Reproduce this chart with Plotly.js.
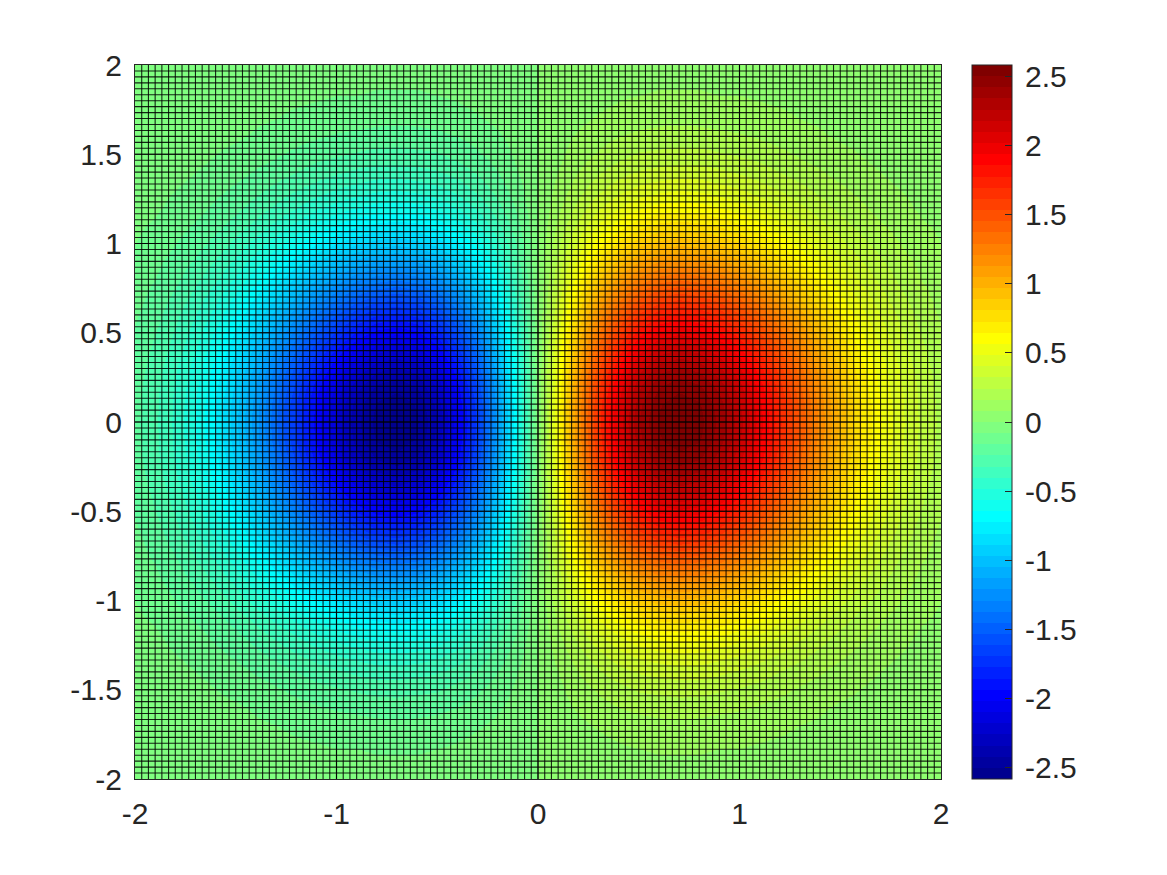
<!DOCTYPE html>
<html>
<head>
<meta charset="utf-8">
<script src="https://cdn.plot.ly/plotly-3.0.1.min.js"></script>
<style>
body{margin:0;background:#fff}
/* the mesh is drawn with the axis ticks, let them antialias like the figure */
.xaxislayer-above path, .yaxislayer-above path{shape-rendering:geometricPrecision !important}
</style>
</head>
<body>
<div id="chart" style="width:1167px;height:875px"></div>
<script>
var xValues = [-2,-1.9,-1.8,-1.7,-1.6,-1.5,-1.4,-1.3,-1.2,-1.1,-1,-.9,-.8,-.7,-.6,-.5,-.4,-.3,-.2,-.1,0,.1,.2,.3,.4,.5,.6,.7,.8,.9,1,1.1,1.2,1.3,1.4,1.5,1.6,1.7,1.8,1.9,2];
var yValues = [-2,-1.9,-1.8,-1.7,-1.6,-1.5,-1.4,-1.3,-1.2,-1.1,-1,-.9,-.8,-.7,-.6,-.5,-.4,-.3,-.2,-.1,0,.1,.2,.3,.4,.5,.6,.7,.8,.9,1,1.1,1.2,1.3,1.4,1.5,1.6,1.7,1.8,1.9,2];

// values, one row per |y| (top and bottom halves look the same)
var row00 = [-.22,-.31,-.42,-.57,-.74,-.95,-1.18,-1.44,-1.71,-1.97,-2.21,-2.40,-2.53,-2.57,-2.51,-2.34,-2.05,-1.65,-1.15,-.59,0,.59,1.15,1.65,2.05,2.34,2.51,2.57,2.53,2.40,2.21,1.97,1.71,1.44,1.18,.95,.74,.57,.42,.31,.22];
var row01 = [-.22,-.30,-.42,-.56,-.74,-.94,-1.17,-1.43,-1.69,-1.95,-2.18,-2.38,-2.51,-2.55,-2.49,-2.31,-2.02,-1.63,-1.14,-.59,0,.59,1.14,1.63,2.02,2.31,2.49,2.55,2.51,2.38,2.18,1.95,1.69,1.43,1.17,.94,.74,.56,.42,.30,.22];
var row02 = [-.21,-.30,-.41,-.54,-.71,-.91,-1.14,-1.38,-1.64,-1.89,-2.12,-2.31,-2.43,-2.47,-2.41,-2.24,-1.97,-1.58,-1.11,-.57,0,.57,1.11,1.58,1.97,2.24,2.41,2.47,2.43,2.31,2.12,1.89,1.64,1.38,1.14,.91,.71,.54,.41,.30,.21];
var row03 = [-.20,-.28,-.39,-.52,-.68,-.87,-1.08,-1.32,-1.56,-1.80,-2.02,-2.19,-2.31,-2.35,-2.30,-2.14,-1.87,-1.50,-1.05,-.54,0,.54,1.05,1.50,1.87,2.14,2.30,2.35,2.31,2.19,2.02,1.80,1.56,1.32,1.08,.87,.68,.52,.39,.28,.20];
var row04 = [-.19,-.26,-.36,-.48,-.63,-.81,-1.01,-1.23,-1.46,-1.68,-1.88,-2.05,-2.16,-2.19,-2.14,-1.99,-1.74,-1.40,-.98,-.51,0,.51,.98,1.40,1.74,1.99,2.14,2.19,2.16,2.05,1.88,1.68,1.46,1.23,1.01,.81,.63,.48,.36,.26,.19];
var row05 = [-.17,-.24,-.33,-.44,-.58,-.74,-.92,-1.12,-1.33,-1.53,-1.72,-1.87,-1.97,-2.00,-1.96,-1.82,-1.59,-1.28,-.90,-.46,0,.46,.90,1.28,1.59,1.82,1.96,2.00,1.97,1.87,1.72,1.53,1.33,1.12,.92,.74,.58,.44,.33,.24,.17];
var row06 = [-.15,-.21,-.30,-.40,-.52,-.66,-.83,-1.01,-1.19,-1.38,-1.54,-1.68,-1.77,-1.80,-1.75,-1.63,-1.43,-1.15,-.80,-.41,0,.41,.80,1.15,1.43,1.63,1.75,1.80,1.77,1.68,1.54,1.38,1.19,1.01,.83,.66,.52,.40,.30,.21,.15];
var row07 = [-.13,-.19,-.26,-.35,-.46,-.58,-.73,-.88,-1.05,-1.21,-1.35,-1.47,-1.55,-1.58,-1.54,-1.43,-1.25,-1.01,-.71,-.36,0,.36,.71,1.01,1.25,1.43,1.54,1.58,1.55,1.47,1.35,1.21,1.05,.88,.73,.58,.46,.35,.26,.19,.13];
var row08 = [-.12,-.16,-.22,-.30,-.39,-.50,-.62,-.76,-.90,-1.04,-1.16,-1.27,-1.33,-1.36,-1.32,-1.23,-1.08,-.87,-.61,-.31,0,.31,.61,.87,1.08,1.23,1.32,1.36,1.33,1.27,1.16,1.04,.90,.76,.62,.50,.39,.30,.22,.16,.12];
var row09 = [-.10,-.14,-.19,-.25,-.33,-.42,-.53,-.64,-.76,-.88,-.98,-1.07,-1.13,-1.14,-1.12,-1.04,-.91,-.73,-.51,-.26,0,.26,.51,.73,.91,1.04,1.12,1.14,1.13,1.07,.98,.88,.76,.64,.53,.42,.33,.25,.19,.14,.10];
var row10 = [-.08,-.11,-.16,-.21,-.27,-.35,-.44,-.53,-.63,-.72,-.81,-.88,-.93,-.95,-.92,-.86,-.75,-.61,-.42,-.22,0,.22,.42,.61,.75,.86,.92,.95,.93,.88,.81,.72,.63,.53,.44,.35,.27,.21,.16,.11,.08];
var row11 = [-.07,-.09,-.13,-.17,-.22,-.28,-.35,-.43,-.51,-.59,-.66,-.72,-.75,-.77,-.75,-.70,-.61,-.49,-.34,-.18,0,.18,.34,.49,.61,.70,.75,.77,.75,.72,.66,.59,.51,.43,.35,.28,.22,.17,.13,.09,.07];
var row12 = [-.05,-.07,-.10,-.13,-.18,-.22,-.28,-.34,-.40,-.47,-.52,-.57,-.60,-.61,-.60,-.55,-.48,-.39,-.27,-.14,0,.14,.27,.39,.48,.55,.60,.61,.60,.57,.52,.47,.40,.34,.28,.22,.18,.13,.10,.07,.05];
var row13 = [-.04,-.06,-.08,-.10,-.14,-.18,-.22,-.27,-.32,-.36,-.41,-.44,-.47,-.48,-.46,-.43,-.38,-.30,-.21,-.11,0,.11,.21,.30,.38,.43,.46,.48,.47,.44,.41,.36,.32,.27,.22,.18,.14,.10,.08,.06,.04];
var row14 = [-.03,-.04,-.06,-.08,-.10,-.13,-.17,-.20,-.24,-.28,-.31,-.34,-.36,-.36,-.35,-.33,-.29,-.23,-.16,-.08,0,.08,.16,.23,.29,.33,.35,.36,.36,.34,.31,.28,.24,.20,.17,.13,.10,.08,.06,.04,.03];
var row15 = [-.02,-.03,-.04,-.06,-.08,-.10,-.12,-.15,-.18,-.21,-.23,-.25,-.27,-.27,-.26,-.25,-.21,-.17,-.12,-.06,0,.06,.12,.17,.21,.25,.26,.27,.27,.25,.23,.21,.18,.15,.12,.10,.08,.06,.04,.03,.02];
var row16 = [-.02,-.02,-.03,-.04,-.06,-.07,-.09,-.11,-.13,-.15,-.17,-.18,-.19,-.20,-.19,-.18,-.16,-.13,-.09,-.05,0,.05,.09,.13,.16,.18,.19,.20,.19,.18,.17,.15,.13,.11,.09,.07,.06,.04,.03,.02,.02];
var row17 = [-.01,-.02,-.02,-.03,-.04,-.05,-.07,-.08,-.10,-.11,-.12,-.13,-.14,-.14,-.14,-.13,-.11,-.09,-.06,-.03,0,.03,.06,.09,.11,.13,.14,.14,.14,.13,.12,.11,.10,.08,.07,.05,.04,.03,.02,.02,.01];
var row18 = [-.01,-.01,-.02,-.02,-.03,-.04,-.05,-.06,-.07,-.08,-.09,-.09,-.10,-.10,-.10,-.09,-.08,-.06,-.04,-.02,0,.02,.04,.06,.08,.09,.10,.10,.10,.09,.09,.08,.07,.06,.05,.04,.03,.02,.02,.01,.01];
var row19 = [-.01,-.01,-.01,-.02,-.02,-.03,-.03,-.04,-.05,-.05,-.06,-.06,-.07,-.07,-.07,-.06,-.06,-.04,-.03,-.02,0,.02,.03,.04,.06,.06,.07,.07,.07,.06,.06,.05,.05,.04,.03,.03,.02,.02,.01,.01,.01];
var row20 = [0,-.01,-.01,-.01,-.01,-.02,-.02,-.03,-.03,-.04,-.04,-.04,-.05,-.05,-.05,-.04,-.04,-.03,-.02,-.01,0,.01,.02,.03,.04,.04,.05,.05,.05,.04,.04,.04,.03,.03,.02,.02,.01,.01,.01,.01,0];

var zRows = [row20,row19,row18,row17,row16,row15,row14,row13,row12,row11,row10,row09,row08,row07,row06,row05,row04,row03,row02,row01,
  row00,row01,row02,row03,row04,row05,row06,row07,row08,row09,row10,row11,row12,row13,row14,row15,row16,row17,row18,row19,row20];

var zLimit = 2.58;
var xTicks = [-2,-1,0,1,2];
var xTickText = ['-2','-1','0','1','2'];
var yTicks = [-2,-1.5,-1,-.5,0,.5,1,1.5,2];
var yTickText = ['-2','-1.5','-1','-0.5','0','0.5','1','1.5','2'];
var barTicks = [-2.5,-2,-1.5,-1,-.5,0,.5,1,1.5,2,2.5];
// thin space in front pushes the labels off the bar, the colorbar has no standoff
var barTickText = ['\u2009-2.5','\u2009-2','\u2009-1.5','\u2009-1','\u2009-0.5','\u20090','\u20090.5','\u20091','\u20091.5','\u20092','\u20092.5'];

// 64 step jet, same as the figure's colorbar
function jetScale() {
  var scale = [];
  for (var i = 0; i < 64; i++) {
    var v = (i + 1) / 64;
    var r = Math.max(0, Math.min(1, 4 * v - 1.5, -4 * v + 4.5));
    var g = Math.max(0, Math.min(1, 4 * v - .5, -4 * v + 3.5));
    var b = Math.max(0, Math.min(1, 4 * v + .5, -4 * v + 2.5));
    var c = 'rgb(' + Math.round(r * 255) + ',' + Math.round(g * 255) + ',' + Math.round(b * 255) + ')';
    scale.push([i / 64, c]);
    scale.push([(i + 1) / 64, c]);
  }
  return scale;
}

var textColor = '#262626';
var meshColor = 'rgba(0,0,0,0.85)';
var meshWidth = 1.1;
var tickFont = {family: 'Liberation Sans, Arial, sans-serif', size: 30, color: textColor};

var trace = {
  type: 'heatmap',
  x: xValues,
  y: yValues,
  z: zRows,
  zmin: -zLimit,
  zmax: zLimit,
  zsmooth: 'best',
  colorscale: jetScale(),
  colorbar: {
    x: 1.0385,
    xanchor: 'left',
    xpad: 0,
    y: .5,
    yanchor: 'middle',
    ypad: 0,
    thickness: 40,
    len: 714,
    lenmode: 'pixels',
    outlinecolor: textColor,
    outlinewidth: 1,
    tickmode: 'array',
    tickvals: barTicks,
    ticktext: barTickText,
    ticks: 'inside',
    ticklen: 7,
    tickcolor: textColor,
    tickfont: tickFont
  }
};

var layout = {
  width: 1167,
  height: 875,
  autosize: false,
  margin: {l: 135, r: 226, t: 65, b: 96, pad: 0},
  paper_bgcolor: '#fff',
  plot_bgcolor: '#fff',
  xaxis: {
    range: [-2, 2],
    tickmode: 'array',
    tickvals: xTicks,
    ticktext: xTickText,
    ticks: 'inside',
    ticklen: 714,
    tickwidth: meshWidth,
    tickcolor: meshColor,
    tickfont: tickFont,
    ticklabelstandoff: 8,
    minor: {tick0: -2, dtick: 1 / 30, ticks: 'inside', ticklen: 714, tickwidth: meshWidth, tickcolor: meshColor, showgrid: false},
    showgrid: false,
    zeroline: false,
    showline: true,
    mirror: true,
    linecolor: textColor,
    linewidth: 1
  },
  yaxis: {
    range: [-2, 2],
    tickmode: 'array',
    tickvals: yTicks,
    ticktext: yTickText,
    ticks: 'inside',
    ticklen: 806,
    tickwidth: meshWidth,
    tickcolor: meshColor,
    tickfont: tickFont,
    ticklabelstandoff: 6,
    minor: {tick0: -2, dtick: 1 / 30, ticks: 'inside', ticklen: 806, tickwidth: meshWidth, tickcolor: meshColor, showgrid: false},
    showgrid: false,
    zeroline: false,
    showline: true,
    mirror: true,
    linecolor: textColor,
    linewidth: 1
  }
};

Plotly.newPlot('chart', [trace], layout, {displayModeBar: false, staticPlot: true});
</script>
</body>
</html>
